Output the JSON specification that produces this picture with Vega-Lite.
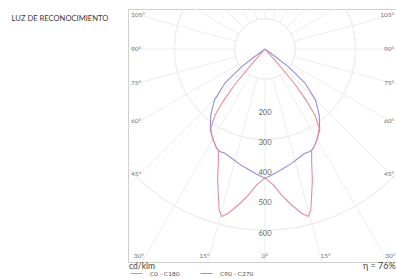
{
  "$schema": "https://vega.github.io/schema/vega-lite/v6.json",
  "width": 268,
  "height": 253,
  "autosize": {"type": "none"},
  "padding": {"left": 128, "top": 9, "right": 0, "bottom": 16},
  "background": "white",
  "config": {"view": {"stroke": "#cfcfcf", "strokeWidth": 1}, "font": "Lato", "text": {"font": "Lato"}},
  "datasets": {
    "curves": [
      {"c": "C90 - C270", "a": -55, "i": 0},
      {"c": "C90 - C270", "a": -53.5, "i": 50},
      {"c": "C90 - C270", "a": -52.8, "i": 99},
      {"c": "C90 - C270", "a": -49.6, "i": 174},
      {"c": "C90 - C270", "a": -44.7, "i": 238},
      {"c": "C90 - C270", "a": -39.4, "i": 283},
      {"c": "C90 - C270", "a": -34, "i": 324},
      {"c": "C90 - C270", "a": -29.6, "i": 347},
      {"c": "C90 - C270", "a": -25.9, "i": 366},
      {"c": "C90 - C270", "a": -23.7, "i": 371},
      {"c": "C90 - C270", "a": -21, "i": 370},
      {"c": "C90 - C270", "a": -16.9, "i": 378},
      {"c": "C90 - C270", "a": -13.1, "i": 389},
      {"c": "C90 - C270", "a": -8.7, "i": 400},
      {"c": "C90 - C270", "a": -4.6, "i": 413},
      {"c": "C90 - C270", "a": -1.5, "i": 423},
      {"c": "C90 - C270", "a": 0, "i": 427},
      {"c": "C90 - C270", "a": 1.5, "i": 423},
      {"c": "C90 - C270", "a": 4.6, "i": 413},
      {"c": "C90 - C270", "a": 8.7, "i": 400},
      {"c": "C90 - C270", "a": 13.1, "i": 389},
      {"c": "C90 - C270", "a": 16.9, "i": 378},
      {"c": "C90 - C270", "a": 21, "i": 370},
      {"c": "C90 - C270", "a": 23.7, "i": 371},
      {"c": "C90 - C270", "a": 25.9, "i": 366},
      {"c": "C90 - C270", "a": 29.6, "i": 347},
      {"c": "C90 - C270", "a": 34, "i": 324},
      {"c": "C90 - C270", "a": 39.4, "i": 283},
      {"c": "C90 - C270", "a": 44.7, "i": 238},
      {"c": "C90 - C270", "a": 49.6, "i": 174},
      {"c": "C90 - C270", "a": 52.8, "i": 99},
      {"c": "C90 - C270", "a": 53.5, "i": 50},
      {"c": "C90 - C270", "a": 55, "i": 0},
      {"c": "C0 - C180", "a": -42, "i": 0},
      {"c": "C0 - C180", "a": -41.5, "i": 60},
      {"c": "C0 - C180", "a": -40.5, "i": 148},
      {"c": "C0 - C180", "a": -38.8, "i": 217},
      {"c": "C0 - C180", "a": -37.1, "i": 274},
      {"c": "C0 - C180", "a": -34.4, "i": 317},
      {"c": "C0 - C180", "a": -31.8, "i": 334},
      {"c": "C0 - C180", "a": -29.6, "i": 347},
      {"c": "C0 - C180", "a": -25.9, "i": 366},
      {"c": "C0 - C180", "a": -24.8, "i": 368},
      {"c": "C0 - C180", "a": -22.2, "i": 409},
      {"c": "C0 - C180", "a": -19.9, "i": 461},
      {"c": "C0 - C180", "a": -17.5, "i": 513},
      {"c": "C0 - C180", "a": -15.9, "i": 554},
      {"c": "C0 - C180", "a": -14.5, "i": 573},
      {"c": "C0 - C180", "a": -12.6, "i": 557},
      {"c": "C0 - C180", "a": -9.7, "i": 524},
      {"c": "C0 - C180", "a": -6.5, "i": 487},
      {"c": "C0 - C180", "a": -3.5, "i": 451},
      {"c": "C0 - C180", "a": -0.7, "i": 431},
      {"c": "C0 - C180", "a": 0, "i": 428},
      {"c": "C0 - C180", "a": 0.7, "i": 431},
      {"c": "C0 - C180", "a": 3.5, "i": 451},
      {"c": "C0 - C180", "a": 6.5, "i": 487},
      {"c": "C0 - C180", "a": 9.7, "i": 524},
      {"c": "C0 - C180", "a": 12.6, "i": 557},
      {"c": "C0 - C180", "a": 14.5, "i": 573},
      {"c": "C0 - C180", "a": 15.9, "i": 554},
      {"c": "C0 - C180", "a": 17.5, "i": 513},
      {"c": "C0 - C180", "a": 19.9, "i": 461},
      {"c": "C0 - C180", "a": 22.2, "i": 409},
      {"c": "C0 - C180", "a": 24.8, "i": 368},
      {"c": "C0 - C180", "a": 25.9, "i": 366},
      {"c": "C0 - C180", "a": 29.6, "i": 347},
      {"c": "C0 - C180", "a": 31.8, "i": 334},
      {"c": "C0 - C180", "a": 34.4, "i": 317},
      {"c": "C0 - C180", "a": 37.1, "i": 274},
      {"c": "C0 - C180", "a": 38.8, "i": 217},
      {"c": "C0 - C180", "a": 40.5, "i": 148},
      {"c": "C0 - C180", "a": 41.5, "i": 60},
      {"c": "C0 - C180", "a": 42, "i": 0}
    ],
    "rings": [{"r": 100}, {"r": 200}, {"r": 300}, {"r": 400}, {"r": 500}, {"r": 600}, {"r": 700}, {"r": 800}, {"r": 900}],
    "spokes": [{"a": 0}, {"a": 15}, {"a": 30}, {"a": 45}, {"a": 60}, {"a": 75}, {"a": 90}, {"a": 105}, {"a": 120}, {"a": 135}, {"a": 150}, {"a": 165}, {"a": 180}, {"a": 195}, {"a": 210}, {"a": 225}, {"a": 240}, {"a": 255}, {"a": 270}, {"a": 285}, {"a": 300}, {"a": 315}, {"a": 330}, {"a": 345}],
    "ringLabels": [{"r": 200}, {"r": 300}, {"r": 400}, {"r": 500}, {"r": 600}],
    "sideLabels": [{"t": "105°", "a": 105}, {"t": "90°", "a": 90}, {"t": "75°", "a": 75}, {"t": "60°", "a": 60}, {"t": "45°", "a": 45}],
    "bottomLabels": [{"t": "30°", "a": -30}, {"t": "15°", "a": -15}, {"t": "0°", "a": 0}, {"t": "15°", "a": 15}, {"t": "30°", "a": 30}],
    "notes": [{"t": "LUZ DE RECONOCIMIENTO"}]
  },
  "encoding": {
    "x": {"field": "x", "type": "quantitative", "scale": {"domain": [-453.6, 433.8], "nice": false, "zero": false}, "axis": null},
    "y": {"field": "y", "type": "quantitative", "scale": {"domain": [-705.3, 132.45], "nice": false, "zero": false}, "axis": null}
  },
  "layer": [
    {
      "data": {"name": "rings"},
      "transform": [{"calculate": "0", "as": "x"}, {"calculate": "0", "as": "y"}],
      "mark": {"type": "arc", "filled": false, "stroke": "#ededed", "strokeWidth": 1, "theta": 0, "theta2": 6.2832, "clip": true},
      "encoding": {
        "radius": {"field": "r", "type": "quantitative", "scale": {"type": "linear", "domain": [0, 1000], "range": [0, 302], "zero": true}}
      }
    },
    {
      "data": {"name": "spokes"},
      "transform": [
        {"calculate": "100*sin(datum.a*PI/180)", "as": "x"},
        {"calculate": "-100*cos(datum.a*PI/180)", "as": "y"},
        {"calculate": "1000*sin(datum.a*PI/180)", "as": "x2"},
        {"calculate": "-1000*cos(datum.a*PI/180)", "as": "y2"}
      ],
      "mark": {"type": "rule", "stroke": "#ededed", "strokeWidth": 1, "clip": true},
      "encoding": {"x2": {"field": "x2"}, "y2": {"field": "y2"}}
    },
    {
      "data": {"name": "ringLabels"},
      "transform": [{"calculate": "0", "as": "x"}, {"calculate": "-datum.r", "as": "y"}],
      "mark": {"type": "text", "fontSize": 7.5, "fill": "#666", "align": "center", "baseline": "middle", "dy": 3.5},
      "encoding": {"text": {"field": "r", "type": "quantitative"}}
    },
    {
      "data": {"name": "sideLabels"},
      "transform": [{"calculate": "-444", "as": "x"}, {"calculate": "-414*cos(datum.a*PI/180)/sin(datum.a*PI/180)", "as": "y"}],
      "mark": {"type": "text", "fontSize": 6.5, "fill": "#777", "align": "left", "baseline": "middle"},
      "encoding": {"text": {"field": "t"}}
    },
    {
      "data": {"name": "sideLabels"},
      "transform": [{"calculate": "428", "as": "x"}, {"calculate": "-414*cos(datum.a*PI/180)/sin(datum.a*PI/180)", "as": "y"}],
      "mark": {"type": "text", "fontSize": 6.5, "fill": "#777", "align": "right", "baseline": "middle"},
      "encoding": {"text": {"field": "t"}}
    },
    {
      "data": {"name": "bottomLabels"},
      "transform": [{"calculate": "clamp(750*tan(datum.a*PI/180), -418, 415)", "as": "x"}, {"calculate": "-685", "as": "y"}],
      "mark": {"type": "text", "fontSize": 6.5, "fill": "#777", "align": "center", "baseline": "middle"},
      "encoding": {"text": {"field": "t"}}
    },
    {
      "data": {"name": "curves"},
      "transform": [
        {"calculate": "datum.i*sin(datum.a*PI/180)", "as": "x"},
        {"calculate": "-datum.i*cos(datum.a*PI/180)", "as": "y"}
      ],
      "mark": {"type": "line", "strokeWidth": 1.1, "clip": true},
      "encoding": {
        "order": {"field": "a", "type": "quantitative"},
        "color": {
          "field": "c", "type": "nominal",
          "scale": {"domain": ["C0 - C180", "C90 - C270"], "range": ["#e68d9d", "#9490da"]},
          "legend": {"orient": "none", "legendX": 2, "legendY": 258, "direction": "horizontal", "title": null, "symbolType": "stroke", "symbolSize": 144, "symbolStrokeWidth": 1, "labelFontSize": 6.5, "labelColor": "#555", "labelOffset": 7, "columnPadding": 18, "labelFont": "Lato"}
        }
      }
    },
    {
      "data": {"name": "notes"},
      "transform": [{"calculate": "-839", "as": "x"}, {"calculate": "99", "as": "y"}],
      "mark": {"type": "text", "fontSize": 7.6, "fill": "#3a3a3a", "align": "left", "baseline": "middle"},
      "encoding": {"text": {"field": "t"}}
    },
    {
      "data": {"values": [{"t": "cd/klm"}]},
      "transform": [{"calculate": "-450", "as": "x"}, {"calculate": "-718.5", "as": "y"}],
      "mark": {"type": "text", "fontSize": 8.5, "fill": "#444", "align": "left", "baseline": "middle"},
      "encoding": {"text": {"field": "t"}}
    },
    {
      "data": {"values": [{"t": "η = 76%"}]},
      "transform": [{"calculate": "433", "as": "x"}, {"calculate": "-718.5", "as": "y"}],
      "mark": {"type": "text", "fontSize": 9, "fill": "#444", "align": "right", "baseline": "middle"},
      "encoding": {"text": {"field": "t"}}
    }
  ]
}
